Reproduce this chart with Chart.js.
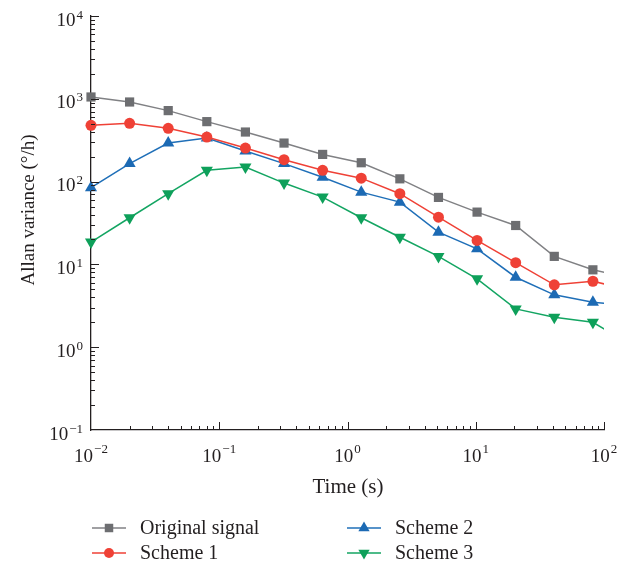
<!DOCTYPE html>
<html>
<head>
<meta charset="utf-8">
<script src="https://cdn.jsdelivr.net/npm/chart.js@4/dist/chart.umd.min.js"></script>
<style>
  html, body { margin: 0; padding: 0; background: #fff; }
</style>
</head>
<body>
<canvas id="allanChart" width="632" height="566"></canvas>
<script>
// averaging time (s)
const tau = [0.01, 0.02, 0.04, 0.08, 0.16, 0.32, 0.64, 1.28, 2.56, 5.12, 10.24, 20.48, 40.96, 81.92, 163.84];
const original = [1052, 915, 720, 530, 397, 292, 213, 169, 108, 64.4, 42.8, 29.5, 12.5, 8.6, 6.8];
const scheme1 = [478, 505, 440, 345, 254, 184, 137, 110, 71.4, 37.2, 19.5, 10.5, 5.67, 6.26, 4.85];
const scheme2 = [84.4, 165, 292, 336, 234, 165, 113, 74.6, 56.5, 24.5, 15.4, 7.0, 4.29, 3.49, 3.17];
const scheme3 = [18.6, 36.6, 71.4, 137, 150, 96, 65, 36.6, 21.3, 12.5, 6.7, 2.9, 2.30, 2.0, 1.05];

const seriesNames = ['Original signal', 'Scheme 1', 'Scheme 2', 'Scheme 3'];
const xExponents = [-2, -1, 0, 1, 2];
const yExponents = [-1, 0, 1, 2, 3, 4];

const axisColor = '#231f20';
const serif = '"Liberation Serif", "DejaVu Serif", serif';

const toPoints = (vals) => vals.map((v, i) => ({ x: tau[i], y: v }));

const makeSet = (label, vals, line, fill, style, radius, rotation) => ({
    label: label,
    data: toPoints(vals),
    borderColor: line,
    backgroundColor: fill,
    borderWidth: 1.5,
    pointStyle: style,
    pointRadius: radius,
    pointRotation: rotation || 0,
    pointBorderWidth: 0,
    pointBackgroundColor: fill,
    tension: 0,
    clip: { left: false, top: false, right: 0, bottom: false }
});

// draws 10^n with a raised exponent
function drawPower(ctx, exp, x, baseY, supY, align) {
    const base = '10';
    const sup = exp < 0 ? '\u2212' + (-exp) : String(exp);
    ctx.font = '19px ' + serif;
    const wb = ctx.measureText(base).width;
    ctx.font = '13px ' + serif;
    const ws = ctx.measureText(sup).width;
    const total = wb + 1 + ws;
    const left = align === 'right' ? x - total : x - total / 2;
    ctx.textAlign = 'left';
    ctx.textBaseline = 'alphabetic';
    ctx.font = '19px ' + serif;
    ctx.fillText(base, left, baseY);
    ctx.font = '13px ' + serif;
    ctx.fillText(sup, left + wb + 1, supY);
}

const axisDecor = {
    id: 'axisDecor',
    afterDraw(chart) {
        const ctx = chart.ctx;
        const xs = chart.scales.x, ys = chart.scales.y;
        const area = chart.chartArea;
        ctx.save();
        ctx.strokeStyle = axisColor;
        ctx.fillStyle = axisColor;
        ctx.lineWidth = 1;

        // inward ticks on the bottom axis
        for (let e = -2; e <= 2; e++) {
            for (let m = 1; m <= 9; m++) {
                const v = m * Math.pow(10, e);
                if (v > 100 || (e === -2 && m === 1)) continue;
                const px = Math.round(xs.getPixelForValue(v)) + 0.5;
                const len = m === 1 ? 8 : 4;
                ctx.beginPath();
                ctx.moveTo(px, area.bottom);
                ctx.lineTo(px, area.bottom - len);
                ctx.stroke();
                if (e === 2) break;
            }
        }
        // inward ticks on the left axis
        for (let e = -1; e <= 4; e++) {
            for (let m = 1; m <= 9; m++) {
                const v = m * Math.pow(10, e);
                if (v > 10000 || (e === -1 && m === 1)) continue;
                const py = Math.round(ys.getPixelForValue(v)) + 0.5;
                const len = m === 1 ? 8 : 4;
                ctx.beginPath();
                ctx.moveTo(area.left, py);
                ctx.lineTo(area.left + len, py);
                ctx.stroke();
                if (e === 4) break;
            }
        }

        // tick labels
        xExponents.forEach(e => {
            const px = xs.getPixelForValue(Math.pow(10, e));
            drawPower(ctx, e, px, area.bottom + 32, area.bottom + 23, 'center');
        });
        yExponents.forEach(e => {
            const py = ys.getPixelForValue(Math.pow(10, e));
            drawPower(ctx, e, area.left - 8, py + 9.5, py + 2.5, 'right');
        });

        // axis titles
        ctx.font = '21px ' + serif;
        ctx.textAlign = 'center';
        ctx.textBaseline = 'alphabetic';
        ctx.fillText('Time (s)', 348, 493);
        ctx.save();
        ctx.translate(29, 210);
        ctx.rotate(-Math.PI / 2);
        ctx.font = '19px ' + serif;
        ctx.textBaseline = 'middle';
        ctx.fillText('Allan variance (\u00b0/h)', 0, 0);
        ctx.restore();

        // legend: short line with its marker, then the name
        const spots = [[92, 528], [92, 553], [347, 528], [347, 553]];
        chart.data.datasets.forEach((ds, i) => {
            const [lx, ly] = spots[i];
            ctx.strokeStyle = ds.borderColor;
            ctx.lineWidth = 1.5;
            ctx.beginPath();
            ctx.moveTo(lx, ly);
            ctx.lineTo(lx + 34, ly);
            ctx.stroke();
            ctx.fillStyle = ds.backgroundColor;
            Chart.helpers.drawPoint(ctx, {
                pointStyle: ds.pointStyle,
                rotation: ds.pointRotation,
                radius: ds.pointRadius - 0.5,
                borderWidth: 0
            }, lx + 17, ly);
            ctx.fillStyle = axisColor;
            ctx.font = '20px ' + serif;
            ctx.textAlign = 'left';
            ctx.textBaseline = 'middle';
            ctx.fillText(ds.label, lx + 48, ly + 1);
        });
        ctx.restore();
    }
};

const ctxA = document.getElementById('allanChart').getContext('2d');
const allanChart = new Chart(ctxA, {
    type: 'line',
    data: {
        datasets: [
            makeSet(seriesNames[0], original, '#808184', '#6d6e71', 'rect', 6.5),
            makeSet(seriesNames[1], scheme1, '#ef4136', '#ef4136', 'circle', 5.5),
            makeSet(seriesNames[2], scheme2, '#1f6fb8', '#1c6ab4', 'triangle', 7),
            makeSet(seriesNames[3], scheme3, '#13a562', '#0ea05a', 'triangle', 7, 180)
        ]
    },
    options: {
        responsive: false,
        animation: false,
        events: [],
        layout: { padding: { left: 91, top: 16, right: 28, bottom: 136 } },
        plugins: { legend: { display: false }, tooltip: { enabled: false } },
        scales: {
            x: {
                type: 'logarithmic',
                min: 0.01,
                max: 100,
                grid: { display: false, drawTicks: false },
                border: { color: axisColor, width: 1.3 },
                ticks: { display: false },
                afterFit: (s) => { s.height = 0; }
            },
            y: {
                type: 'logarithmic',
                min: 0.1,
                max: 10000,
                grid: { display: false, drawTicks: false },
                border: { color: axisColor, width: 1.3 },
                ticks: { display: false },
                afterFit: (s) => { s.width = 0; }
            }
        }
    },
    plugins: [axisDecor]
});
</script>
</body>
</html>
